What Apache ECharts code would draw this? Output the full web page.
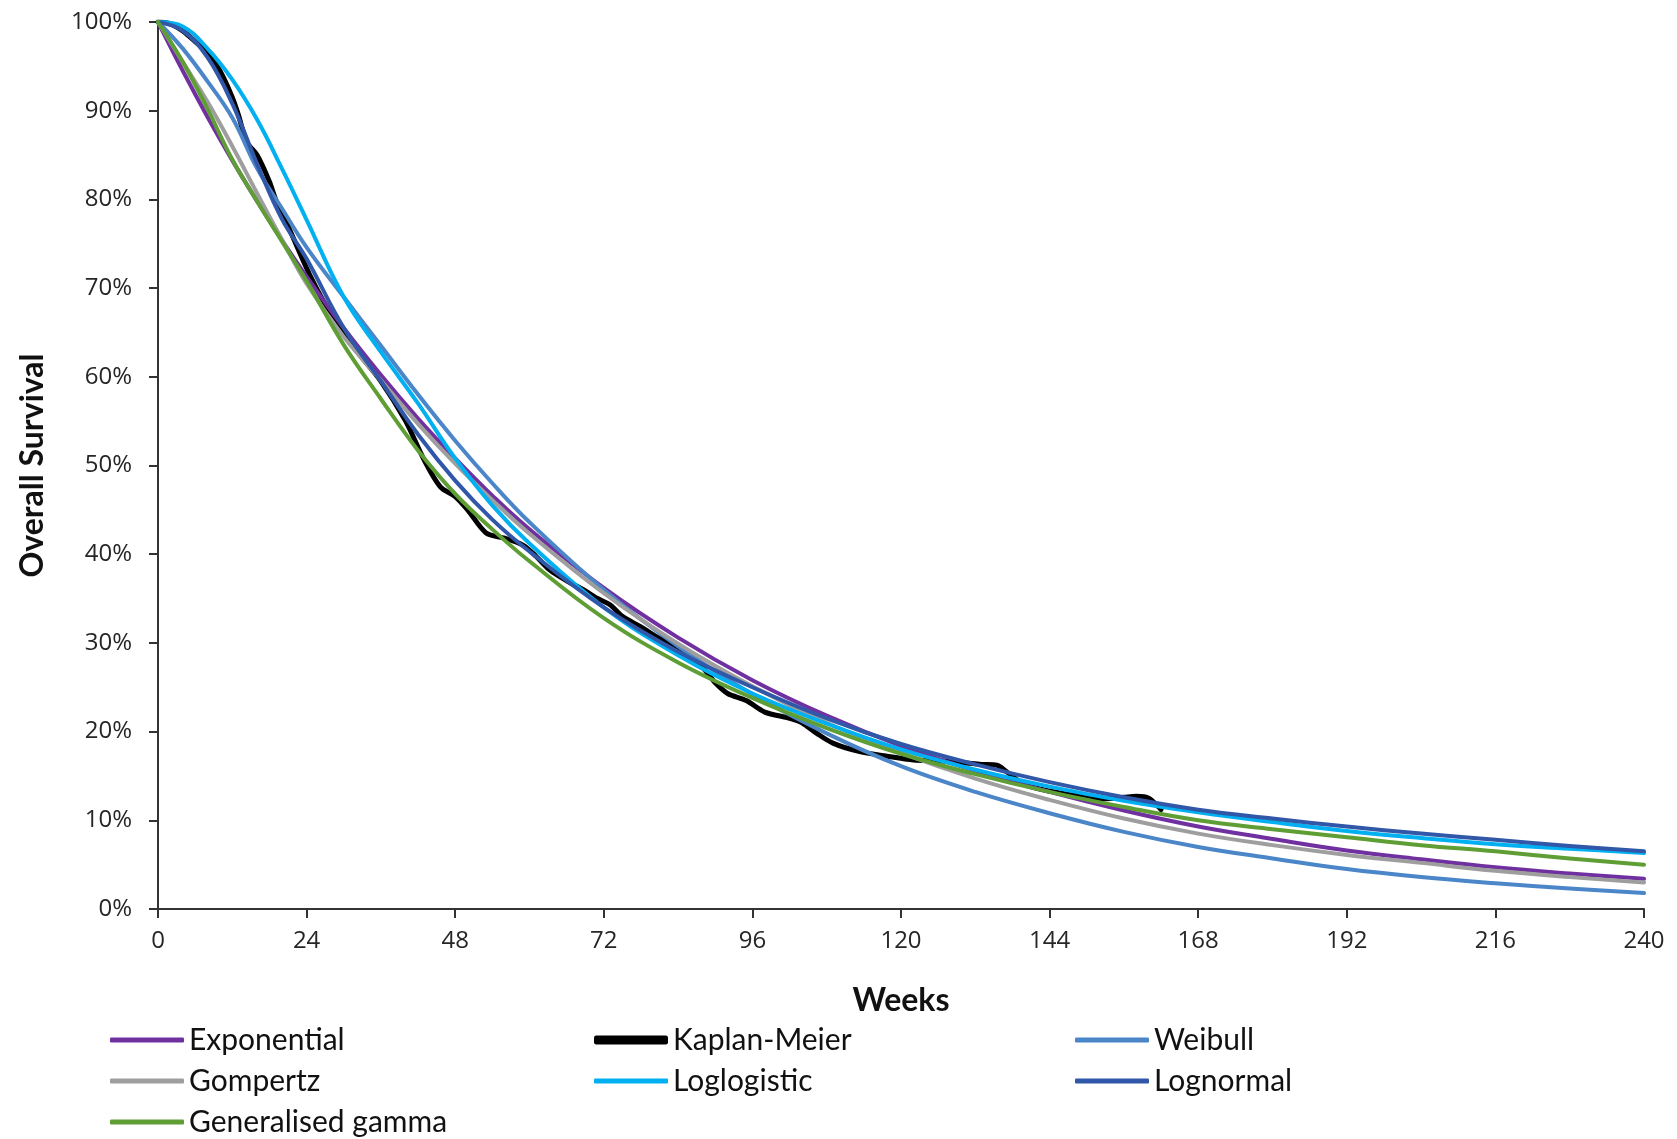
<!DOCTYPE html>
<html>
<head>
<meta charset="utf-8">
<title>Overall Survival</title>
<script src="https://cdn.jsdelivr.net/npm/echarts@6/dist/echarts.min.js"></script>
<style>
  html, body { margin: 0; padding: 0; background: #fff; }
  #chart { width: 1677px; height: 1139px; }
</style>
</head>
<body>
<div id="chart"></div>
<script>
// fitted curves (percent surviving)
const weeks = [0, 4, 8, 12, 16, 20, 24, 30, 36, 42, 48, 54, 60, 72, 84, 96, 108, 120, 132, 144, 156, 168, 180, 192, 204, 216, 228, 240]
const exponential = [100, 94.5, 89.3, 84.4, 79.8, 75.4, 71.3, 65.5, 60.2, 55.3, 50.8, 46.6, 42.8, 36.2, 30.6, 25.8, 21.8, 18.4, 15.6, 13.2, 11.1, 9.3, 7.9, 6.6, 5.6, 4.7, 4.0, 3.4]
const weibull = [100, 97, 93.3, 89.2, 83.5, 79, 74.6, 69, 63.5, 58, 52.8, 48, 43.6, 36, 29.6, 24.2, 19.8, 16.1, 13.2, 10.8, 8.7, 7.0, 5.7, 4.5, 3.6, 2.9, 2.3, 1.8]
const gompertz = [100, 95.5, 91, 86, 80.7, 75.5, 70.5, 64.5, 59.6, 54.7, 50.2, 46.1, 42.3, 35.6, 29.9, 25.1, 21.0, 17.6, 14.7, 12.3, 10.2, 8.5, 7.2, 6.1, 5.2, 4.3, 3.6, 3.0]
const loglogistic = [100, 99.5, 97, 93.5, 89, 83.5, 77.7, 69, 62.8, 57, 50.8, 45.5, 41.2, 34, 28.6, 24.3, 20.9, 18.0, 15.7, 13.8, 12.2, 10.9, 9.8, 8.8, 8.0, 7.3, 6.8, 6.3]
const lognormal = [100, 99, 96, 90.8, 84, 77.8, 73.3, 65.5, 59.5, 53.5, 48.3, 43.9, 40.3, 34, 29, 25, 21.5, 18.6, 16.3, 14.3, 12.6, 11.2, 10.2, 9.3, 8.5, 7.8, 7.1, 6.5]
const genGamma = [100, 95.5, 90.2, 84.5, 79.8, 75.3, 70.8, 63.6, 57.5, 51.7, 46.8, 42.8, 39.2, 32.8, 27.8, 23.8, 20.4, 17.5, 15.2, 13.2, 11.5, 10.0, 9.0, 8.1, 7.2, 6.5, 5.7, 5.0]

// Kaplan-Meier, observed part only
const kmWeeks = [0, 2, 4, 6, 8, 10, 12, 13, 14.3, 16, 18, 19, 21, 24.5, 28, 32, 36, 40, 43, 45.6, 48, 50, 53, 56, 59, 61, 63.3, 66, 68.7, 71, 73, 75, 78, 81, 85, 88, 90, 92, 95, 98, 102, 104, 106.4, 109, 113, 118, 122, 126, 130, 133, 135.5, 137, 140, 144, 148, 152, 156, 158, 160, 162]
const kmSurvival = [100, 99.8, 99, 97.8, 96.5, 94.5, 91.5, 89.5, 86.5, 85, 82, 80, 77, 71.5, 67, 63, 59.5, 55, 50.6, 47.6, 46.5, 45, 42.4, 41.8, 41, 39.8, 38.2, 37, 36, 35, 34.3, 33, 31.8, 30.5, 29, 27.2, 25.5, 24.3, 23.5, 22.2, 21.5, 21, 19.8, 18.7, 17.8, 17.2, 16.8, 16.7, 16.5, 16.3, 16.2, 15.5, 14, 13.3, 12.8, 12.4, 12.6, 12.7, 12.5, 11.2]

// legend slots: name, column, row
const legendNames = ['Exponential', 'Kaplan-Meier', 'Weibull', 'Gompertz', 'Loglogistic', 'Lognormal', 'Generalised gamma']
const legendCol = [0, 1, 2, 0, 1, 2, 0]
const legendRow = [0, 0, 0, 1, 1, 1, 2]
const colLeft = [110, 594, 1075]
const rowMid = [1040, 1081, 1122]

const colors = {
  'Exponential': '#7030A0',
  'Kaplan-Meier': '#000000',
  'Weibull': '#4A86C8',
  'Gompertz': '#9E9E9E',
  'Loglogistic': '#00B0F0',
  'Lognormal': '#3157A8',
  'Generalised gamma': '#5E9E34'
}

const chart = echarts.init(document.getElementById('chart'))

const pairs = (xs, ys) => xs.map((x, i) => [x, ys[i]])

const curve = (name, ys) => ({
  name: name,
  type: 'line',
  data: pairs(weeks, ys),
  symbol: 'none',
  smooth: 0.4,
  lineStyle: { color: colors[name], width: 4, cap: 'round', join: 'round' },
  itemStyle: { color: colors[name] },
  z: 2
})

const axisColor = '#333'
const tickFont = { color: '#262626', fontSize: 24, fontFamily: 'Open Sans' }

const legends = legendNames.map((name, i) => {
  const thick = name === 'Kaplan-Meier' ? 9 : 5
  return {
    data: [{ name: name, icon: 'roundRect', itemStyle: { color: colors[name] } }],
    left: colLeft[legendCol[i]],
    top: rowMid[legendRow[i]] - 17,
    padding: 0,
    itemWidth: 74,
    itemHeight: thick,
    itemGap: 0,
    selectedMode: false,
    textStyle: { fontFamily: 'Lato', fontSize: 30, lineHeight: 34, color: '#111', padding: [0, 0, 0, 0] }
  }
})

const option = {
  animation: false,
  backgroundColor: '#fff',
  grid: { left: 158, right: 33, top: 22, bottom: 230, containLabel: false },
  xAxis: {
    type: 'value',
    min: 0,
    max: 240,
    interval: 24,
    name: 'Weeks',
    nameLocation: 'middle',
    nameGap: 76,
    nameTextStyle: { fontFamily: 'Lato', fontWeight: 'bold', fontSize: 32, color: '#111' },
    axisLine: { lineStyle: { color: axisColor, width: 2 } },
    axisTick: { show: true, length: 9, lineStyle: { color: axisColor, width: 2 } },
    axisLabel: Object.assign({ margin: 20 }, tickFont),
    splitLine: { show: false }
  },
  yAxis: {
    type: 'value',
    min: 0,
    max: 100,
    interval: 10,
    name: 'Overall Survival',
    nameLocation: 'middle',
    nameRotate: 90,
    nameGap: 109,
    nameTextStyle: { fontFamily: 'Lato', fontWeight: 'bold', fontSize: 32, color: '#111' },
    axisLine: { show: true, lineStyle: { color: axisColor, width: 2 } },
    axisTick: { show: true, length: 9, lineStyle: { color: axisColor, width: 2 } },
    axisLabel: Object.assign({ margin: 26, formatter: '{value}%' }, tickFont),
    splitLine: { show: false }
  },
  legend: legends,
  series: [
    curve('Exponential', exponential),
    {
      name: 'Kaplan-Meier',
      type: 'line',
      data: pairs(kmWeeks, kmSurvival),
      symbol: 'none',
      smooth: 0.3,
      lineStyle: { color: colors['Kaplan-Meier'], width: 5, cap: 'round', join: 'round' },
      itemStyle: { color: colors['Kaplan-Meier'] },
      z: 1
    },
    curve('Weibull', weibull),
    curve('Gompertz', gompertz),
    curve('Loglogistic', loglogistic),
    curve('Lognormal', lognormal),
    curve('Generalised gamma', genGamma)
  ]
}

chart.setOption(option)
</script>
</body>
</html>
